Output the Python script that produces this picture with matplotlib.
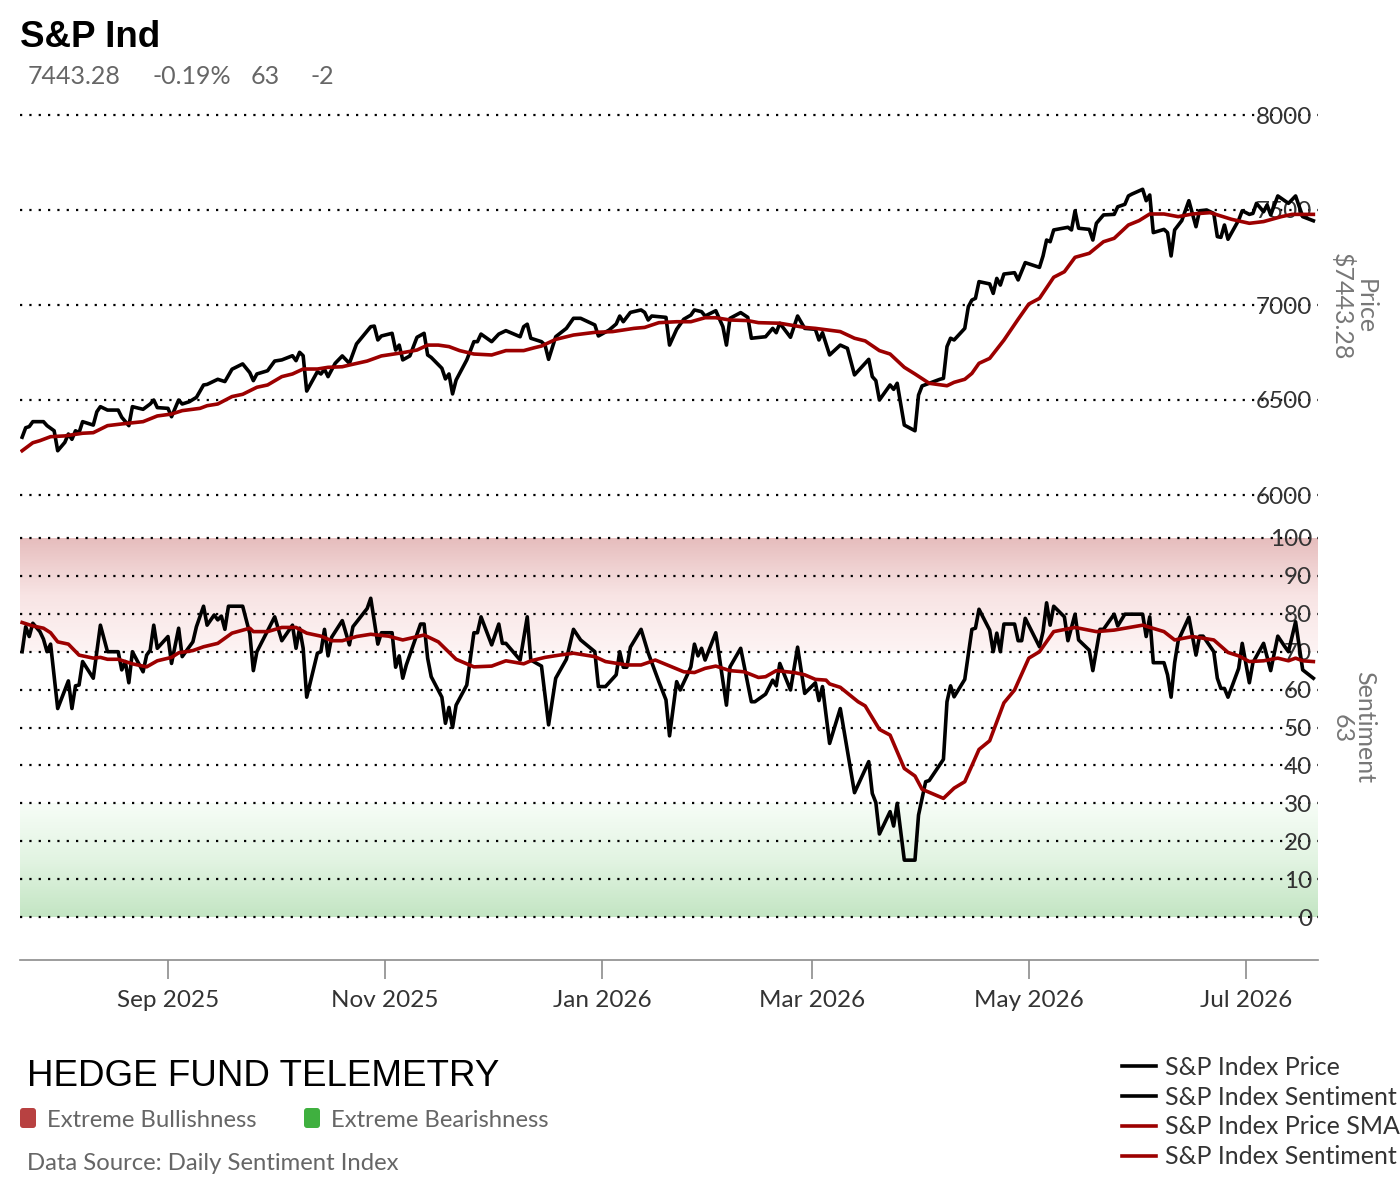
import matplotlib
matplotlib.use("Agg")
import matplotlib.pyplot as plt
import matplotlib.dates as mdates
import numpy as np
import pandas as pd
from matplotlib.colors import LinearSegmentedColormap
from matplotlib.lines import Line2D
from matplotlib.patches import FancyBboxPatch
from matplotlib.transforms import IdentityTransform

plt.rcParams['font.family'] = ['Lato', 'DejaVu Sans']

# ---------------- DATA ----------------
PRICE_DATES = [
 "2025-07-22","2025-07-23","2025-07-24","2025-07-25","2025-07-28","2025-07-29","2025-07-31",
 "2025-08-01","2025-08-03","2025-08-04","2025-08-05","2025-08-06","2025-08-07","2025-08-08","2025-08-11","2025-08-12","2025-08-13","2025-08-15","2025-08-18","2025-08-19","2025-08-21","2025-08-22","2025-08-25","2025-08-27","2025-08-28","2025-08-29",
 "2025-09-01","2025-09-02","2025-09-04","2025-09-05","2025-09-07","2025-09-09","2025-09-11","2025-09-12","2025-09-15","2025-09-17","2025-09-19","2025-09-22","2025-09-24","2025-09-25","2025-09-26","2025-09-29",
 "2025-10-01","2025-10-03","2025-10-06","2025-10-07","2025-10-08","2025-10-09","2025-10-10","2025-10-13","2025-10-14","2025-10-15","2025-10-16","2025-10-18","2025-10-20","2025-10-22","2025-10-24","2025-10-28","2025-10-29","2025-10-30","2025-10-31",
 "2025-11-03","2025-11-04","2025-11-05","2025-11-06","2025-11-08","2025-11-10","2025-11-12","2025-11-13","2025-11-14","2025-11-17","2025-11-18","2025-11-19","2025-11-20","2025-11-21","2025-11-24","2025-11-26","2025-11-27","2025-11-28",
 "2025-12-01","2025-12-03","2025-12-05","2025-12-09","2025-12-10","2025-12-11","2025-12-12","2025-12-15","2025-12-16","2025-12-17","2025-12-19","2025-12-22","2025-12-24","2025-12-26","2025-12-30","2025-12-31",
 "2026-01-03","2026-01-05","2026-01-06","2026-01-07","2026-01-09","2026-01-12","2026-01-13","2026-01-14","2026-01-15","2026-01-19","2026-01-20","2026-01-22","2026-01-24","2026-01-26","2026-01-27","2026-01-29","2026-01-30",
 "2026-02-02","2026-02-04","2026-02-05","2026-02-06","2026-02-09","2026-02-11","2026-02-12","2026-02-16","2026-02-18","2026-02-19","2026-02-20","2026-02-23","2026-02-25","2026-02-27",
 "2026-03-02","2026-03-03","2026-03-04","2026-03-06","2026-03-09","2026-03-11","2026-03-13","2026-03-17","2026-03-18","2026-03-19","2026-03-20","2026-03-23","2026-03-24","2026-03-25","2026-03-27","2026-03-30","2026-03-31",
 "2026-04-01","2026-04-06","2026-04-07","2026-04-08","2026-04-09","2026-04-10","2026-04-13","2026-04-14","2026-04-15","2026-04-16","2026-04-17","2026-04-20","2026-04-21","2026-04-22","2026-04-23","2026-04-24","2026-04-27","2026-04-28","2026-04-30",
 "2026-05-04","2026-05-05","2026-05-06","2026-05-07","2026-05-08","2026-05-12","2026-05-13","2026-05-14","2026-05-15","2026-05-18","2026-05-19","2026-05-20","2026-05-22","2026-05-25","2026-05-26","2026-05-28","2026-05-29","2026-05-30",
 "2026-06-02","2026-06-03","2026-06-04","2026-06-05","2026-06-08","2026-06-09","2026-06-10","2026-06-11","2026-06-13","2026-06-15","2026-06-17","2026-06-18","2026-06-20","2026-06-22","2026-06-23","2026-06-24","2026-06-25","2026-06-26","2026-06-29","2026-06-30",
 "2026-07-02","2026-07-03","2026-07-04","2026-07-06","2026-07-07","2026-07-08","2026-07-10","2026-07-13","2026-07-15","2026-07-17","2026-07-20"]
PRICE_VALUES = [
 6304,6354,6360,6386,6386,6365,6338,
 6233,6277,6321,6293,6338,6328,6386,6368,6438,6465,6447,6447,6409,6365,6465,6451,6479,6500,6460,
 6456,6412,6500,6479,6491,6514,6579,6582,6609,6597,6662,6690,6644,6602,6637,6654,
 6705,6711,6733,6707,6751,6733,6547,6649,6637,6662,6623,6693,6732,6693,6795,6886,6889,6816,6837,
 6851,6763,6789,6711,6732,6830,6851,6737,6724,6667,6611,6637,6532,6605,6711,6807,6807,6847,
 6807,6847,6865,6833,6886,6899,6825,6807,6789,6714,6833,6877,6930,6930,6895,6837,
 6868,6900,6942,6912,6961,6974,6961,6921,6942,6935,6789,6872,6925,6947,6974,6965,6942,
 6970,6886,6789,6930,6960,6935,6825,6833,6877,6854,6904,6830,6942,6877,
 6872,6816,6854,6737,6789,6772,6632,6714,6623,6602,6500,6579,6556,6588,6368,6338,6526,
 6574,6609,6614,6781,6825,6816,6877,6991,7026,7035,7123,7111,7061,7140,7105,7163,7170,7132,7223,
 7198,7258,7342,7333,7395,7409,7395,7496,7404,7398,7342,7430,7474,7477,7517,7530,7574,7584,
 7609,7549,7579,7381,7398,7381,7258,7395,7444,7549,7412,7496,7500,7482,7360,7356,7421,7346,7447,7496,
 7477,7482,7535,7491,7526,7474,7574,7535,7574,7465,7443.28]

PRICE_SMA_DATES = [
 "2025-07-22","2025-07-25","2025-07-27","2025-07-30",
 "2025-08-03","2025-08-08","2025-08-11","2025-08-15","2025-08-19","2025-08-25","2025-08-29",
 "2025-09-02","2025-09-05","2025-09-10","2025-09-12","2025-09-15","2025-09-19","2025-09-22","2025-09-26","2025-09-29",
 "2025-10-03","2025-10-06","2025-10-09","2025-10-13","2025-10-16","2025-10-20","2025-10-22","2025-10-27","2025-10-31",
 "2025-11-06","2025-11-10","2025-11-13","2025-11-16","2025-11-19","2025-11-22","2025-11-26",
 "2025-12-01","2025-12-05","2025-12-10","2025-12-13","2025-12-15","2025-12-19","2025-12-24","2025-12-30",
 "2026-01-04","2026-01-10","2026-01-13","2026-01-17","2026-01-22","2026-01-26","2026-01-30",
 "2026-02-02","2026-02-06","2026-02-11","2026-02-14","2026-02-20","2026-02-27",
 "2026-03-02","2026-03-09","2026-03-13","2026-03-16","2026-03-20","2026-03-23","2026-03-27","2026-03-30",
 "2026-04-03","2026-04-08","2026-04-10","2026-04-13","2026-04-15","2026-04-17","2026-04-20","2026-04-24","2026-04-28",
 "2026-05-01","2026-05-04","2026-05-08","2026-05-11","2026-05-14","2026-05-18","2026-05-22","2026-05-25","2026-05-29",
 "2026-06-01","2026-06-04","2026-06-08","2026-06-12","2026-06-16","2026-06-21","2026-06-27",
 "2026-07-02","2026-07-06","2026-07-11","2026-07-14","2026-07-20"]
PRICE_SMA_VALUES = [
 6233,6275,6286,6307,
 6311,6325,6328,6365,6374,6386,6416,
 6426,6444,6456,6470,6479,6518,6530,6567,6579,
 6623,6637,6663,6663,6672,6675,6684,6705,6732,
 6749,6763,6789,6789,6781,6760,6742,
 6737,6760,6760,6775,6784,6819,6842,6856,
 6860,6877,6882,6907,6912,6912,6933,
 6933,6921,6918,6907,6904,6882,
 6877,6860,6825,6811,6760,6742,6672,6637,
 6588,6575,6593,6609,6640,6693,6719,6815,6925,
 7005,7035,7146,7175,7251,7272,7333,7351,7421,
 7444,7479,7479,7465,7479,7486,7451,
 7430,7439,7465,7477,7477]

SENT_DATES = [
 "2025-07-22","2025-07-23","2025-07-24","2025-07-25","2025-07-27","2025-07-28","2025-07-29","2025-07-30",
 "2025-08-01","2025-08-04","2025-08-05","2025-08-06","2025-08-07","2025-08-08","2025-08-11","2025-08-13","2025-08-15","2025-08-18","2025-08-19","2025-08-20","2025-08-21","2025-08-22","2025-08-25","2025-08-26","2025-08-27","2025-08-28","2025-08-29",
 "2025-09-01","2025-09-02","2025-09-04","2025-09-05","2025-09-08","2025-09-09","2025-09-11","2025-09-12","2025-09-14","2025-09-15","2025-09-16","2025-09-17","2025-09-18","2025-09-22","2025-09-24","2025-09-25","2025-09-26",
 "2025-10-01","2025-10-03","2025-10-06","2025-10-07","2025-10-08","2025-10-09","2025-10-10","2025-10-13","2025-10-14","2025-10-15","2025-10-16","2025-10-17","2025-10-20","2025-10-22","2025-10-23","2025-10-27","2025-10-28","2025-10-30","2025-10-31",
 "2025-11-03","2025-11-04","2025-11-05","2025-11-06","2025-11-07","2025-11-11","2025-11-12","2025-11-13","2025-11-14","2025-11-17","2025-11-18","2025-11-19","2025-11-20","2025-11-21","2025-11-24","2025-11-26","2025-11-27","2025-11-28",
 "2025-12-01","2025-12-03","2025-12-04","2025-12-05","2025-12-09","2025-12-11","2025-12-12","2025-12-15","2025-12-17","2025-12-19","2025-12-22","2025-12-24","2025-12-26","2025-12-30","2025-12-31",
 "2026-01-02","2026-01-05","2026-01-06","2026-01-07","2026-01-08","2026-01-09","2026-01-12","2026-01-14","2026-01-17","2026-01-19","2026-01-20","2026-01-22","2026-01-23","2026-01-25","2026-01-26","2026-01-27","2026-01-28","2026-01-29","2026-01-30",
 "2026-02-02","2026-02-05","2026-02-06","2026-02-09","2026-02-12","2026-02-13","2026-02-16","2026-02-18","2026-02-19","2026-02-20","2026-02-23","2026-02-25","2026-02-27",
 "2026-03-02","2026-03-03","2026-03-04","2026-03-06","2026-03-09","2026-03-13","2026-03-17","2026-03-18","2026-03-19","2026-03-20","2026-03-23","2026-03-24","2026-03-25","2026-03-27","2026-03-30","2026-03-31",
 "2026-04-02","2026-04-03","2026-04-05","2026-04-07","2026-04-08","2026-04-09","2026-04-10","2026-04-13","2026-04-15","2026-04-16","2026-04-17","2026-04-20","2026-04-21","2026-04-22","2026-04-23","2026-04-24","2026-04-27","2026-04-28","2026-04-29","2026-04-30",
 "2026-05-04","2026-05-05","2026-05-06","2026-05-07","2026-05-08","2026-05-11","2026-05-12","2026-05-14","2026-05-15","2026-05-18","2026-05-19","2026-05-21","2026-05-22","2026-05-25","2026-05-26","2026-05-28",
 "2026-06-02","2026-06-03","2026-06-04","2026-06-05","2026-06-08","2026-06-09","2026-06-10","2026-06-11","2026-06-12","2026-06-15","2026-06-17","2026-06-18","2026-06-19","2026-06-22","2026-06-23","2026-06-24","2026-06-25","2026-06-26","2026-06-29","2026-06-30",
 "2026-07-02","2026-07-03","2026-07-06","2026-07-08","2026-07-10","2026-07-12","2026-07-13","2026-07-15","2026-07-17","2026-07-20"]
SENT_VALUES = [
 70,76.6,74,77.5,75.3,73.3,70,72,
 55,62.3,55,61,61.2,67.4,63,77,70,70,65.2,67.4,61.8,70,64.7,69.1,70.4,77,70.9,
 74,66.9,76.2,68.7,72.6,76.6,82,77,79.7,78.4,79.4,75.9,82,82,74.8,65,70,
 79.2,72.9,77,70.9,76.2,70.9,58,69.6,70,75.9,68.9,73.8,78.2,71.8,76.6,81.4,84.1,72,75,
 75,65.9,68.9,63,66.5,77.3,77.3,68.3,63.4,58,51.1,55.3,50,55.9,61.2,75,75,79.2,
 71.8,77.3,72.2,72.2,67.8,79.2,67.8,66.2,50.7,63,68,75.9,73.1,70,60.8,
 60.8,63.9,70,65.9,65.9,71.2,75.9,69.7,62.1,57.3,47.8,62.1,59.9,63.9,66,72,68.9,70.9,67.8,
 75,55.9,66,70.9,56.8,56.8,58.8,62.5,61,66.9,59.9,71.2,59,
 61.8,57.1,60.8,45.8,55,32.8,41,32.6,30.2,21.9,27.8,24,30,15,15,26.9,
 35.7,36,38.8,41.6,56.8,61,58.1,62.7,75.9,76.2,81.2,75.7,70,74.9,70,77.3,77.3,72.9,72.9,78.8,
 71.3,75.3,82.9,77,82,79.2,72.9,79.9,73.1,70.4,65,75.9,75.9,79.9,76.8,79.9,
 79.9,74,79.2,67.1,67.1,63.9,58,67.1,72.9,79.1,69.1,74.1,74.1,70,63,60.3,60.3,58,65.6,72.2,
 61.8,67.1,72.2,65,74.1,71.3,70,77.9,65.2,63]

SENT_SMA_DATES = [
 "2025-07-22","2025-07-25","2025-07-28","2025-07-30",
 "2025-08-01","2025-08-04","2025-08-07","2025-08-11","2025-08-13","2025-08-15","2025-08-18","2025-08-22","2025-08-26","2025-08-29",
 "2025-09-02","2025-09-04","2025-09-08","2025-09-11","2025-09-15","2025-09-19","2025-09-24","2025-09-25","2025-09-29",
 "2025-10-03","2025-10-07","2025-10-10","2025-10-14","2025-10-17","2025-10-20","2025-10-24","2025-10-28",
 "2025-11-02","2025-11-06","2025-11-12","2025-11-16","2025-11-21","2025-11-26",
 "2025-12-01","2025-12-05","2025-12-10","2025-12-12","2025-12-16","2025-12-20","2025-12-24","2025-12-30",
 "2026-01-02","2026-01-08","2026-01-12","2026-01-16","2026-01-24","2026-01-27","2026-01-30",
 "2026-02-02","2026-02-06","2026-02-10","2026-02-14","2026-02-16","2026-02-19","2026-02-24","2026-02-27",
 "2026-03-02","2026-03-05","2026-03-06","2026-03-09","2026-03-14","2026-03-16","2026-03-20","2026-03-23","2026-03-27","2026-03-30",
 "2026-04-01","2026-04-07","2026-04-10","2026-04-13","2026-04-17","2026-04-20","2026-04-24","2026-04-27",
 "2026-05-01","2026-05-04","2026-05-08","2026-05-14","2026-05-20","2026-05-25",
 "2026-06-02","2026-06-08","2026-06-11","2026-06-16","2026-06-22","2026-06-26","2026-06-29",
 "2026-07-02","2026-07-06","2026-07-10","2026-07-13","2026-07-15","2026-07-17","2026-07-20"]
SENT_SMA_VALUES = [
 77.7,76.8,76.2,75,
 72.6,72,69.1,68.3,68.5,68,68,66.8,66,67.6,
 68.5,69.7,70.3,71.3,72.2,74.9,76.2,75.3,75.3,
 76.4,76.4,74.9,74.1,72.9,72.9,74,74.6,
 74.1,73.1,74.4,72.6,68,66,
 66.2,67.6,66.8,67.6,68.5,69.1,69.6,68.7,
 67.4,66.5,66.5,67.8,64.7,64.5,65.6,
 66.2,65,64.7,63.2,63.4,65,64.5,63.9,
 62.7,62.5,61.5,60.6,56.8,55.7,49.5,48,39.2,37.2,
 33.7,31.3,34,35.7,44.2,46.5,56.5,59.9,
 68.3,70,75.3,76.4,75.3,75.7,
 77,75.3,73.1,74,73.1,69.8,68.9,
 67.4,67.6,68.3,67.6,68.3,67.6,67.4]

PRICE_TICKS = [6000, 6500, 7000, 7500, 8000]
SENT_TICKS = [0, 10, 20, 30, 40, 50, 60, 70, 80, 90, 100]
SERIES_NAMES = ["S&P Index Price", "S&P Index Sentiment", "S&P Index Price SMA", "S&P Index Sentiment"]
TITLE = "S&P Ind"
SUBTITLE_PARTS = ["7443.28", "-0.19%", "63", "-2"]

# ---------------- LAYOUT ----------------
W, H = 1400, 1200
fig = plt.figure(figsize=(14, 12), dpi=100)
fig.patch.set_facecolor("white")

def fx(px):
    return px / W

def fy(py):
    return 1 - py / H

BLACK = "#000000"
RED = "#9c0000"
LW = 2.6
GRID = dict(color="black", linestyle=(0, (1, 3.2)), linewidth=1.6)

START = pd.Timestamp("2025-09-01") + pd.Timedelta(days=-41.6)
END = pd.Timestamp("2025-09-01") + pd.Timedelta(days=323.3)

# price axes: 8000 at y=115, 6000 at y=495; 50-unit margins
p_lo, p_hi = 5950, 8050
ppu = (495 - 115) / 2000.0
p_top = 115 - (p_hi - 8000) * ppu
p_bot = 495 + (6000 - p_lo) * ppu
ax_p = fig.add_axes([fx(20), fy(p_bot), fx(1318) - fx(20), fy(p_top) - fy(p_bot)])

# sentiment axes: 100 at y=538, 0 at y=917, bottom spine at y=960
spu = (917 - 538) / 100.0
s_lo = -(960 - 917) / spu
s_hi = 102
s_top = 538 - (s_hi - 100) * spu
ax_s = fig.add_axes([fx(20), fy(960), fx(1318) - fx(20), fy(s_top) - fy(960)], sharex=ax_p)

pd_dates = pd.to_datetime(PRICE_DATES)
ps_dates = pd.to_datetime(PRICE_SMA_DATES)
sd_dates = pd.to_datetime(SENT_DATES)
ss_dates = pd.to_datetime(SENT_SMA_DATES)

# ---- price panel
ax_p.plot(pd_dates, PRICE_VALUES, color=BLACK, lw=LW, zorder=3, solid_joinstyle="round")
ax_p.plot(ps_dates, PRICE_SMA_VALUES, color=RED, lw=LW, zorder=4, solid_joinstyle="round")
ax_p.set_ylim(p_lo, p_hi)
ax_p.set_yticks(PRICE_TICKS)
ax_p.set_yticklabels([str(t) for t in PRICE_TICKS])

# ---- sentiment panel
x0 = mdates.date2num(START)
x1 = mdates.date2num(END)
red_cmap = LinearSegmentedColormap.from_list("bull", ["#fdf4f4", "#f8e4e4", "#e6bdbd"])
green_cmap = LinearSegmentedColormap.from_list("bear", ["#c3e5c3", "#e2f4e2", "#f7fdf7"])
grad = np.linspace(0, 1, 256).reshape(-1, 1)
ax_s.imshow(grad, extent=[x0, x1, 70, 100], origin="lower", aspect="auto",
            cmap=red_cmap, zorder=0, interpolation="bilinear")
ax_s.imshow(grad, extent=[x0, x1, 0, 30], origin="lower", aspect="auto",
            cmap=green_cmap, zorder=0, interpolation="bilinear")

ax_s.plot(sd_dates, SENT_VALUES, color=BLACK, lw=LW, zorder=3, solid_joinstyle="round")
ax_s.plot(ss_dates, SENT_SMA_VALUES, color=RED, lw=LW, zorder=4, solid_joinstyle="round")
ax_s.set_ylim(s_lo, s_hi)
ax_s.set_yticks(SENT_TICKS)
ax_s.set_yticklabels([str(t) for t in SENT_TICKS])

ax_p.set_xlim(START, END)

for ax in (ax_p, ax_s):
    ax.set_facecolor("none")
    for sp in ("top", "left", "right"):
        ax.spines[sp].set_visible(False)
    ax.grid(axis="y", **GRID)
    ax.grid(axis="x", visible=False)
    ax.yaxis.tick_right()
    ax.tick_params(axis="y", length=0, pad=-4.3, labelsize=17.5, labelcolor="#333333")
    for t in ax.yaxis.get_major_ticks():
        t.label2.set_horizontalalignment("right")
        t.label1.set_visible(False)

ax_p.spines["bottom"].set_visible(False)
ax_p.tick_params(axis="x", bottom=False, labelbottom=False)

ax_s.spines["bottom"].set_color("#8c8c8c")
ax_s.spines["bottom"].set_linewidth(1.2)
ax_s.xaxis.set_major_locator(mdates.MonthLocator(bymonth=[1, 3, 5, 7, 9, 11]))
ax_s.xaxis.set_major_formatter(mdates.DateFormatter("%b %Y"))
ax_s.tick_params(axis="x", length=14, width=1.2, color="#8c8c8c", pad=7.5,
                 labelsize=17.5, labelcolor="#333333")

# ---- axis titles (rotated, right side)
fig.text(fx(1365), fy(307), "Price", rotation=270, ha="center", va="center",
         fontsize=18, color="#777777")
fig.text(fx(1342), fy(307), "$7443.28", rotation=270, ha="center", va="center",
         fontsize=18, color="#777777")
fig.text(fx(1365), fy(727), "Sentiment", rotation=270, ha="center", va="center",
         fontsize=18, color="#777777")
fig.text(fx(1342), fy(729), "63", rotation=270, ha="center", va="center",
         fontsize=18, color="#777777")

# ---- title & subtitle
fig.text(fx(20), fy(47), TITLE, fontsize=26.5, fontweight="bold",
         family=["Liberation Sans", "DejaVu Sans"], va="baseline", ha="left", color="black")
for xpos, part in zip([28, 152, 251, 311], SUBTITLE_PARTS):
    fig.text(fx(xpos), fy(83.5), part, fontsize=18, color="#666666", va="baseline", ha="left")

# ---- bottom-left branding & zone legend
fig.text(fx(27), fy(1086), "HEDGE FUND TELEMETRY", fontsize=26.5,
         family=["Liberation Sans", "DejaVu Sans"], va="baseline", ha="left", color="black")
for (px, col, lab) in [(20, "#b84141", "Extreme Bullishness"), (304, "#3fb03f", "Extreme Bearishness")]:
    fig.add_artist(FancyBboxPatch((px, H - 1128), 16, 20,
                                  boxstyle="round,pad=0,rounding_size=3",
                                  transform=IdentityTransform(), fc=col, ec="none"))
    fig.text(fx(px + 27), fy(1127), lab, fontsize=17.2, color="#666666", va="baseline", ha="left")
fig.text(fx(27), fy(1170), "Data Source: Daily Sentiment Index", fontsize=17.2,
         color="#666666", va="baseline", ha="left")

# ---- series legend (bottom right)
handles = [Line2D([], [], color=BLACK, lw=LW), Line2D([], [], color=BLACK, lw=LW),
           Line2D([], [], color=RED, lw=LW), Line2D([], [], color=RED, lw=LW)]
leg = fig.legend(handles, SERIES_NAMES, loc="upper left",
                 bbox_to_anchor=(fx(1122), fy(1056)), frameon=False,
                 fontsize=18, handlelength=1.35, handletextpad=0.36,
                 labelspacing=0.27, borderpad=0, borderaxespad=0)
for t in leg.get_texts():
    t.set_color("#333333")

fig.savefig("out.png", dpi=100, facecolor="white")
